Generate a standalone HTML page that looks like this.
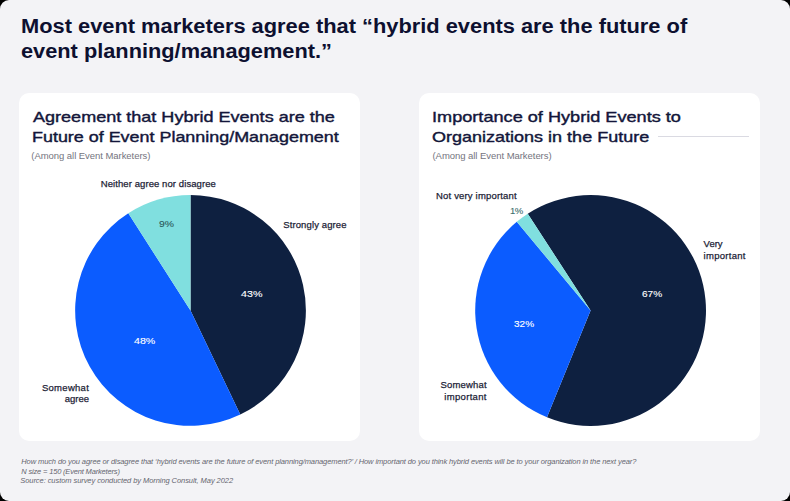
<!DOCTYPE html>
<html><head><meta charset="utf-8"><style>
html,body{margin:0;padding:0;background:#000;}
body{width:790px;height:501px;overflow:hidden;position:relative;font-family:"Liberation Sans",sans-serif;}
.bg{position:absolute;left:0;top:0;width:790px;height:501px;background:#f3f3f6;border-radius:9px;}
.card{position:absolute;top:93px;width:341px;height:348px;background:#fff;border-radius:10px;}
.t{position:absolute;white-space:nowrap;}
svg{position:absolute;left:0;top:0;}
</style></head><body>
<div class="bg"></div>
<div class="card" style="left:19px"></div>
<div class="card" style="left:419px"></div>
<div style="position:absolute;left:658px;top:135.8px;width:91px;height:1px;background:#dadae2;"></div>
<svg width="790" height="501" viewBox="0 0 790 501"><path d="M190.50,310.50 L190.50,195.10 A115.4,115.4 0 0 1 240.27,414.61 Z" fill="#0e2040"/><path d="M190.50,310.50 L240.27,414.61 A115.4,115.4 0 0 1 128.33,213.28 Z" fill="#0b5cff"/><path d="M190.50,310.50 L128.33,213.28 A115.4,115.4 0 0 1 190.50,195.10 Z" fill="#80dfdf"/><path d="M590.60,310.50 L527.75,213.72 A115.4,115.4 0 1 1 547.00,417.35 Z" fill="#0e2040"/><path d="M590.60,310.50 L547.00,417.35 A115.4,115.4 0 0 1 516.79,221.79 Z" fill="#0b5cff"/><path d="M590.60,310.50 L516.79,221.79 A115.4,115.4 0 0 1 527.75,213.72 Z" fill="#80dfdf"/></svg>
<div class="t" style="top:14.27px;font-size:20px;line-height:24.0px;color:#0d1030;font-weight:700;font-style:normal;letter-spacing:0px;transform:scaleX(1.0918);transform-origin:left center;left:21.00px;">Most event marketers agree that “hybrid events are the future of</div><div class="t" style="top:38.67px;font-size:20px;line-height:24.0px;color:#0d1030;font-weight:700;font-style:normal;letter-spacing:0px;transform:scaleX(1.0884);transform-origin:left center;left:21.00px;">event planning/management.”</div><div class="t" style="top:107.80px;font-size:15px;line-height:18.0px;color:#13163a;font-weight:400;font-style:normal;letter-spacing:0px;-webkit-text-stroke:0.4px #13163a;transform:scaleX(1.2027);transform-origin:left center;left:32.50px;">Agreement that Hybrid Events are the</div><div class="t" style="top:127.50px;font-size:15px;line-height:18.0px;color:#13163a;font-weight:400;font-style:normal;letter-spacing:0px;-webkit-text-stroke:0.4px #13163a;transform:scaleX(1.1943);transform-origin:left center;left:31.50px;">Future of Event Planning/Management</div><div class="t" style="top:149.91px;font-size:9.5px;line-height:11.4px;color:#74747e;font-weight:400;font-style:normal;letter-spacing:-0.049px;left:31.30px;">(Among all Event Marketers)</div><div class="t" style="top:107.80px;font-size:15px;line-height:18.0px;color:#13163a;font-weight:400;font-style:normal;letter-spacing:0px;-webkit-text-stroke:0.4px #13163a;transform:scaleX(1.2089);transform-origin:left center;left:432.10px;">Importance of Hybrid Events to</div><div class="t" style="top:127.50px;font-size:15px;line-height:18.0px;color:#13163a;font-weight:400;font-style:normal;letter-spacing:0px;-webkit-text-stroke:0.4px #13163a;transform:scaleX(1.2004);transform-origin:left center;left:432.10px;">Organizations in the Future</div><div class="t" style="top:149.91px;font-size:9.5px;line-height:11.4px;color:#74747e;font-weight:400;font-style:normal;letter-spacing:-0.049px;left:432.50px;">(Among all Event Marketers)</div><div class="t" style="top:178.21px;font-size:9.5px;line-height:11.4px;color:#1c1e36;font-weight:400;font-style:normal;letter-spacing:0.088px;-webkit-text-stroke:0.25px #1c1e36;left:100.70px;">Neither agree nor disagree</div><div class="t" style="top:218.71px;font-size:9.5px;line-height:11.4px;color:#1c1e36;font-weight:400;font-style:normal;letter-spacing:0.122px;-webkit-text-stroke:0.25px #1c1e36;left:283.20px;">Strongly agree</div><div class="t" style="top:381.81px;font-size:9.5px;line-height:11.4px;color:#1c1e36;font-weight:400;font-style:normal;letter-spacing:0.287px;-webkit-text-stroke:0.25px #1c1e36;right:700.90px;">Somewhat</div><div class="t" style="top:393.41px;font-size:9.5px;line-height:11.4px;color:#1c1e36;font-weight:400;font-style:normal;letter-spacing:0px;-webkit-text-stroke:0.25px #1c1e36;right:700.90px;">agree</div><div class="t" style="top:287.72px;font-size:9.8px;line-height:11.76px;color:#ffffff;font-weight:400;font-style:normal;letter-spacing:0px;-webkit-text-stroke:0.12px #ffffff;transform:scaleX(1.092);transform-origin:left center;left:241.30px;">43%</div><div class="t" style="top:334.52px;font-size:9.8px;line-height:11.76px;color:#ffffff;font-weight:400;font-style:normal;letter-spacing:0px;-webkit-text-stroke:0.12px #ffffff;transform:scaleX(1.0843);transform-origin:left center;left:133.70px;">48%</div><div class="t" style="top:218.42px;font-size:9.8px;line-height:11.76px;color:#2c5a5c;font-weight:400;font-style:normal;letter-spacing:0px;-webkit-text-stroke:0.12px #2c5a5c;transform:scaleX(1.058);transform-origin:left center;left:158.80px;">9%</div><div class="t" style="top:189.71px;font-size:9.5px;line-height:11.4px;color:#1c1e36;font-weight:400;font-style:normal;letter-spacing:0.176px;-webkit-text-stroke:0.25px #1c1e36;left:436.00px;">Not very important</div><div class="t" style="top:205.11px;font-size:9.5px;line-height:11.4px;color:#3a6e6c;font-weight:400;font-style:normal;letter-spacing:-0.6px;-webkit-text-stroke:0.1px #3a6e6c;left:510.00px;">1%</div><div class="t" style="top:238.31px;font-size:9.5px;line-height:11.4px;color:#1c1e36;font-weight:400;font-style:normal;letter-spacing:0px;-webkit-text-stroke:0.25px #1c1e36;left:703.60px;">Very</div><div class="t" style="top:250.21px;font-size:9.5px;line-height:11.4px;color:#1c1e36;font-weight:400;font-style:normal;letter-spacing:0.275px;-webkit-text-stroke:0.25px #1c1e36;left:703.60px;">important</div><div class="t" style="top:287.72px;font-size:9.8px;line-height:11.76px;color:#ffffff;font-weight:400;font-style:normal;letter-spacing:0px;-webkit-text-stroke:0.12px #ffffff;transform:scaleX(1.0302);transform-origin:left center;left:642.00px;">67%</div><div class="t" style="top:318.42px;font-size:9.8px;line-height:11.76px;color:#ffffff;font-weight:400;font-style:normal;letter-spacing:0px;-webkit-text-stroke:0.12px #ffffff;transform:scaleX(1.0227);transform-origin:left center;left:513.70px;">32%</div><div class="t" style="top:379.21px;font-size:9.5px;line-height:11.4px;color:#1c1e36;font-weight:400;font-style:normal;letter-spacing:0.173px;-webkit-text-stroke:0.25px #1c1e36;right:303.30px;">Somewhat</div><div class="t" style="top:390.61px;font-size:9.5px;line-height:11.4px;color:#1c1e36;font-weight:400;font-style:normal;letter-spacing:0.306px;-webkit-text-stroke:0.25px #1c1e36;right:303.30px;">important</div><div class="t" style="top:457.30px;font-size:7.5px;line-height:9.0px;color:#65656f;font-weight:400;font-style:italic;letter-spacing:-0.097px;left:21.30px;">How much do you agree or disagree that ‘hybrid events are the future of event planning/management?’ / How important do you think hybrid events will be to your organization in the next year?</div><div class="t" style="top:466.50px;font-size:7.5px;line-height:9.0px;color:#65656f;font-weight:400;font-style:italic;letter-spacing:-0.172px;left:21.30px;">N size = 150 (Event Marketers)</div><div class="t" style="top:475.60px;font-size:7.5px;line-height:9.0px;color:#65656f;font-weight:400;font-style:italic;letter-spacing:-0.068px;left:20.30px;">Source: custom survey conducted by Morning Consult, May 2022</div>
</body></html>
